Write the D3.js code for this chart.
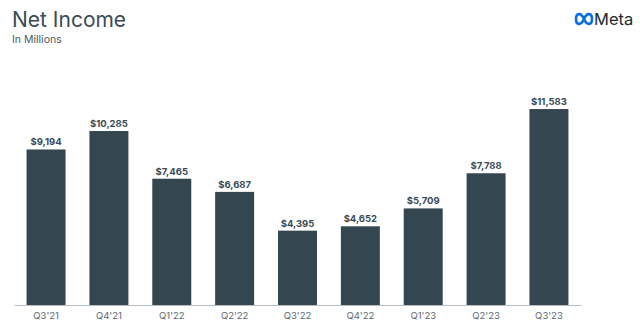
<!DOCTYPE html>
<html>
<head>
<meta charset="utf-8">
<script src="https://cdn.jsdelivr.net/npm/d3@7/dist/d3.min.js"></script>
<style>
  html, body { margin: 0; padding: 0; background: #ffffff; }
  svg { display: block; }
</style>
</head>
<body>
<svg id="chart" width="640" height="323"></svg>
<script>
// Quarterly net income, in millions of US dollars
const quarters = ["Q3'21", "Q4'21", "Q1'22", "Q2'22", "Q3'22", "Q4'22", "Q1'23", "Q2'23", "Q3'23"];
const netIncome = [9194, 10285, 7465, 6687, 4395, 4652, 5709, 7788, 11583];
const valueLabels = ["$9,194", "$10,285", "$7,465", "$6,687", "$4,395", "$4,652", "$5,709", "$7,788", "$11,583"];

const svg = d3.select("#chart");
const font = "Inter, 'Open Sans', sans-serif";

// Header
svg.append("text")
  .attr("x", 12).attr("y", 27)
  .attr("font-family", font).attr("font-size", 21)
  .attr("fill", "#3b4b56")
  .text("Net Income");
svg.append("text")
  .attr("x", 12).attr("y", 43)
  .attr("font-family", font).attr("font-size", 10.5)
  .attr("fill", "#4a5963")
  .text("In Millions");

// Brand mark: infinity glyph + wordmark
const logo = svg.append("g").attr("transform", "translate(575,19)");
logo.append("path")
  .attr("d", "M9,0 C6,-7 1,-6 1,0 C1,6 6,7 9,0 C12,-7 17,-6 17,0 C17,6 12,7 9,0 Z")
  .attr("fill", "none")
  .attr("stroke", "#0a6fe0")
  .attr("stroke-width", 2.6)
  .attr("stroke-linejoin", "round");
svg.append("text")
  .attr("x", 594).attr("y", 25)
  .attr("font-family", font).attr("font-size", 16.5)
  .attr("fill", "#1c2b33")
  .text("Meta");

// Scales
const x = d3.scaleBand()
  .domain(quarters)
  .range([14, 581])
  .paddingInner(0.38)
  .paddingOuter(0.2);
const y = d3.scaleLinear()
  .domain([0, 12000])
  .range([305, 102]);

// Bars
svg.append("g")
  .selectAll("rect")
  .data(netIncome)
  .join("rect")
  .attr("x", (d, i) => x(quarters[i]))
  .attr("y", d => y(d))
  .attr("width", x.bandwidth())
  .attr("height", d => y(0) - y(d))
  .attr("fill", "#34464f");

// Value labels above bars
svg.append("g")
  .selectAll("text")
  .data(netIncome)
  .join("text")
  .attr("x", (d, i) => x(quarters[i]) + x.bandwidth() / 2)
  .attr("y", d => y(d) - 4)
  .attr("text-anchor", "middle")
  .attr("font-family", font).attr("font-size", 9.5)
  .attr("font-weight", 700)
  .attr("fill", "#3b4b56")
  .text((d, i) => valueLabels[i]);

// Category axis
const axis = svg.append("g")
  .attr("transform", `translate(0,${y(0)})`)
  .call(d3.axisBottom(x).tickSize(0).tickPadding(7));
axis.select(".domain")
  .attr("stroke", "#b8bec3")
  .attr("stroke-width", 1);
axis.selectAll("text")
  .attr("font-family", font).attr("font-size", 9.5)
  .attr("fill", "#5a6872");
</script>
</body>
</html>
